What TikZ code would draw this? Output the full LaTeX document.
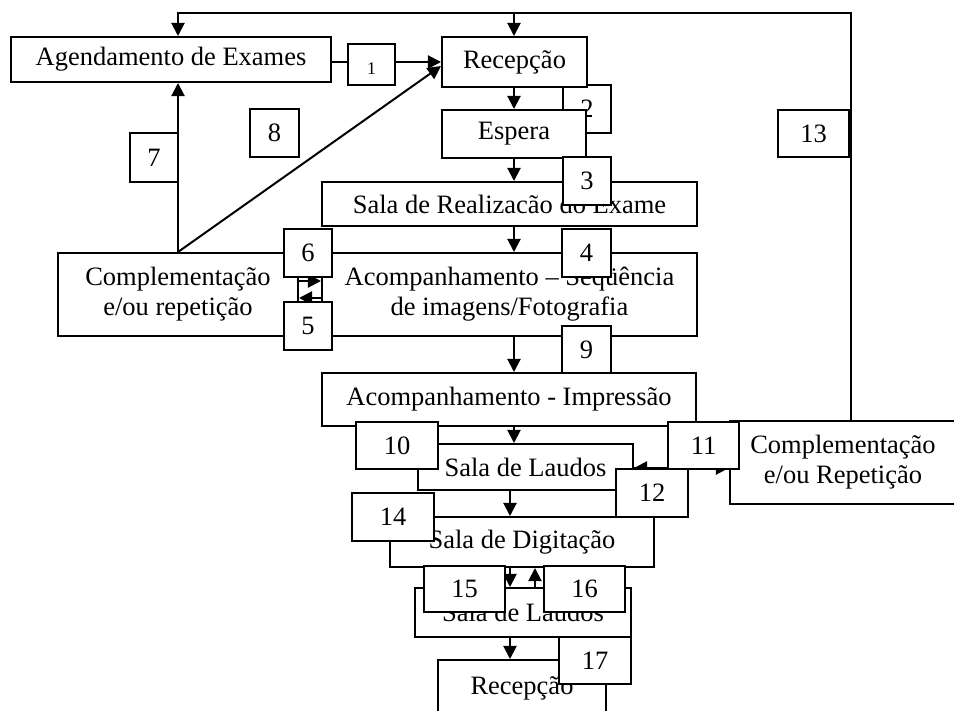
\documentclass[tikz,border=0pt]{standalone}
\usepackage{fontspec}
\setmainfont{Liberation Serif}
\usetikzlibrary{arrows.meta,positioning,calc}

\begin{document}
\begin{tikzpicture}[x=0.453pt,y=-0.453pt,
  font=\fontsize{12}{13.6}\selectfont,
  wh/.style 2 args={minimum width=#1*0.453pt,minimum height=#2*0.453pt},
  stage/.style={draw,fill=white,line width=0.9pt,inner sep=0pt,align=center},
  num/.style={draw,fill=white,line width=0.9pt,inner sep=0pt},
  flow/.style={line width=0.9pt,-{Triangle[length=6pt,width=6pt]}}]
  \useasboundingbox (0,0) rectangle (954,711);

  % box 2 lies under Recepcao and Espera
  \node[num,wh={48}{48}] (n2) at (587,109) {2};

  % stages
  \node[stage,wh={320}{45}] (agend) at (171,59.5) {Agendamento de Exames};
  \node[stage,wh={145}{50}] (rec) at (514.5,62) {Recepção};
  \node[stage,wh={144}{48}] (esp) at (514,134) {Espera};
  \node[stage,wh={375}{44}] (real) at (509.5,204) {Sala de Realizacão do Exame};
  \node[stage,wh={240}{83}] (comp) at (178,294.5) {Complementação\\e/ou repetição};
  \node[stage,wh={375}{83}] (seq) at (509.5,294.5) {Acompanhamento – Seqüência\\de imagens/Fotografia};
  \node[stage,wh={374}{53}] (imp) at (509,399.5) {Acompanhamento - Impressão};
  \node[stage,wh={215}{46}] (laud) at (525.5,467) {Sala de Laudos};
  \node[stage,wh={226}{83}] (comprep) at (843,462.5) {Complementação\\e/ou Repetição};
  \node[stage,wh={264}{50}] (dig) at (522,542) {Sala de Digitação};
  \node[stage,wh={216}{49}] (laud2) at (523,612.5) {Sala de Laudos};
  \node[stage,wh={168}{56}] (rec2) at (522,688) {Recepção};

  \coordinate (tl) at (178,13);
  \coordinate (tm) at (514,13);
  \coordinate (tr) at (851,13);
  \coordinate (ca) at (514,0);
  \coordinate (cb) at (510,0);
  \coordinate (cc) at (535,0);
  \coordinate (g6) at (0,281);
  \coordinate (g5) at (0,298);
  \coordinate (g11) at (0,468);

  % return paths
  \draw[flow] (comprep.north -| tr) -- (tr) -- (tl) -- (tl |- agend.north);
  \draw[flow] (tm) -- (tm |- rec.north);
  \draw[flow] (rec.west -| agend.east) -- (rec.west);
  \draw[flow] (comp.north -| tl) -- (tl |- agend.south);
  \draw[flow] (comp.north -| tl) -- ($(rec.west)+(0,4)$);

  % main sequence
  \draw[flow] (rec.south -| ca) -- (esp.north -| ca);
  \draw[flow] (esp.south -| ca) -- (real.north -| ca);
  \draw[flow] (real.south -| ca) -- (seq.north -| ca);
  \draw[flow] (seq.south -| ca) -- (imp.north -| ca);
  \draw[flow] (imp.south -| ca) -- (laud.north -| ca);
  \draw[flow] (laud.south -| cb) -- (dig.north -| cb);
  \draw[flow] (dig.south -| cb) -- (laud2.north -| cb);
  \draw[flow] (laud2.north -| cc) -- (dig.south -| cc);
  \draw[flow] (laud2.south -| cb) -- (rec2.north -| cb);

  \draw[flow] (comp.east |- g6) -- (seq.west |- g6);
  \draw[flow] (seq.west |- g5) -- (comp.east |- g5);
  \draw[flow] (laud.east |- g11) -- (comprep.west |- g11);
  \draw[flow] (comprep.west |- g11) -- (laud.east |- g11);

  % step numbers
  \node[num,wh={47}{41},font=\fontsize{8}{9}\selectfont] (n1) at (371.5,64.5) {\raisebox{-4.7pt}[0pt][0pt]{1}};
  \node[num,wh={48}{48}] (n3) at (587,181) {3};
  \node[num,wh={49}{48}] (n4) at (586.5,253) {4};
  \node[num,wh={48}{48}] (n5) at (308,326) {5};
  \node[num,wh={48}{48}] (n6) at (308,253) {6};
  \node[num,wh={48}{49}] (n7) at (154,157.5) {7};
  \node[num,wh={49}{48}] (n8) at (274.5,133) {8};
  \node[num,wh={49}{47}] (n9) at (586.5,349.5) {9};
  \node[num,wh={82}{47}] (n10) at (397,445.5) {10};
  \node[num,wh={71}{47}] (n11) at (703.5,445.5) {11};
  \node[num,wh={72}{48}] (n12) at (652,493) {12};
  \node[num,wh={71}{47}] (n13) at (813.5,133.5) {13};
  \node[num,wh={82}{48}] (n14) at (393,517) {14};
  \node[num,wh={81}{46}] (n15) at (464.5,589) {15};
  \node[num,wh={81}{46}] (n16) at (584.5,589) {16};
  \node[num,wh={72}{47}] (n17) at (595,660.5) {17};
\end{tikzpicture}
\end{document}
